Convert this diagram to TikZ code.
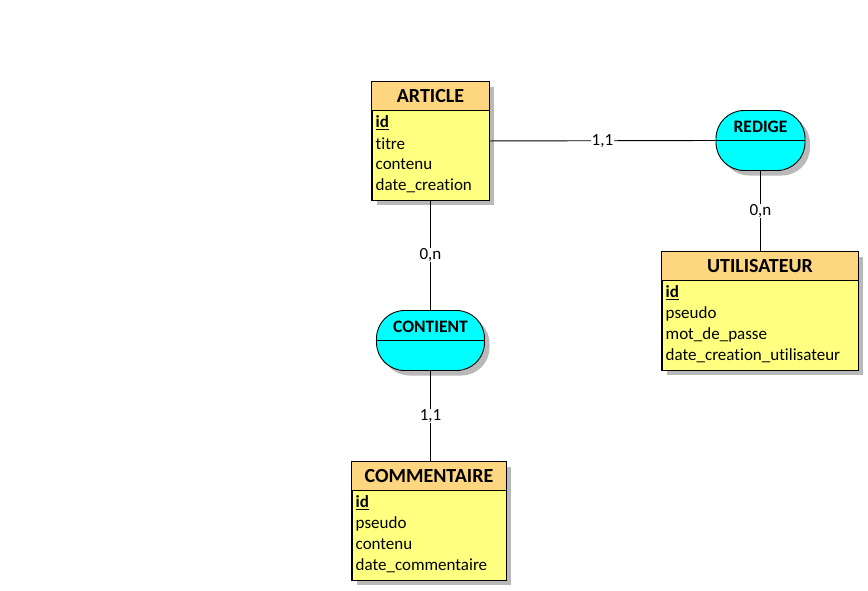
\documentclass[tikz,border=0pt]{standalone}
\usepackage{fontspec}
\setmainfont[Ligatures=NoCommon]{Carlito}
\usetikzlibrary{shadows}
\definecolor{hdrorange}{RGB}{255,214,128}
\definecolor{bodyyellow}{RGB}{255,255,128}
\definecolor{relcyan}{RGB}{0,255,255}
\definecolor{shadowgray}{RGB}{185,185,185}
\tikzset{
  entbox/.style={draw=black, line width=0.9pt, fill=bodyyellow, anchor=north west,
    inner sep=0pt, drop shadow={shadow xshift=5pt, shadow yshift=-5pt, fill=shadowgray, opacity=1}},
  hdrfill/.style={fill=hdrorange},
  enttitle/.style={font=\fontsize{20}{24}\selectfont\bfseries, inner sep=0pt},
  attr/.style={font=\fontsize{17}{21}\selectfont, anchor=west, inner sep=0pt},
  relbox/.style={draw=black, line width=0.9pt, fill=relcyan, rounded corners=28pt,
    minimum width=89pt, minimum height=60pt, inner sep=0pt,
    drop shadow={shadow xshift=5pt, shadow yshift=-5pt, fill=shadowgray, opacity=1}},
  reltitle/.style={font=\fontsize{17.5}{21}\selectfont\bfseries, inner sep=0pt},
  link/.style={draw=black, line width=0.9pt},
  card/.style={font=\fontsize{17}{21}\selectfont, fill=white, inner sep=0.6pt},
}
\begin{document}
\begin{tikzpicture}[x=1pt, y=-1pt]
\useasboundingbox[fill=white] (0,0) rectangle (868,590);

% half-unit shift keeps the thin rules on pixel centres
\begin{scope}[shift={(0.5,0.5)}]
% ---------- entities ----------
% ARTICLE
\node[entbox, minimum width=117pt, minimum height=118pt] (article) at (371,81) {};
\fill[hdrfill] ([xshift=0.45pt,yshift=-0.45pt]article.north west) rectangle ([xshift=-0.45pt]article.north east |- 0,110);
\draw[link] (article.west |- 0,110) -- (article.east |- 0,110);
\draw[line width=0.9pt] (article.north west) rectangle (article.south east);
\node[enttitle] (articleT) at (article.north |- 0,96) {ARTICLE};
\node[attr] (articleA1) at (375,122) {\bfseries\underline{id}};
\node[attr] (articleA2) at (375,143) {titre};
\node[attr] (articleA3) at (375,164) {contenu};
\node[attr] (articleA4) at (375,185) {date\_creation};

% UTILISATEUR
\node[entbox, minimum width=196pt, minimum height=118pt] (user) at (661,251) {};
\fill[hdrfill] ([xshift=0.45pt,yshift=-0.45pt]user.north west) rectangle ([xshift=-0.45pt]user.north east |- 0,280);
\draw[link] (user.west |- 0,280) -- (user.east |- 0,280);
\draw[line width=0.9pt] (user.north west) rectangle (user.south east);
\node[enttitle] (userT) at (user.north |- 0,266) {UTILISATEUR};
\node[attr] (userA1) at (665,292) {\bfseries\underline{id}};
\node[attr] (userA2) at (665,313) {pseudo};
\node[attr] (userA3) at (665,334) {mot\_de\_passe};
\node[attr] (userA4) at (665,355) {date\_creation\_utilisateur};

% COMMENTAIRE
\node[entbox, minimum width=154pt, minimum height=118pt] (comment) at (351,461) {};
\fill[hdrfill] ([xshift=0.45pt,yshift=-0.45pt]comment.north west) rectangle ([xshift=-0.45pt]comment.north east |- 0,490);
\draw[link] (comment.west |- 0,490) -- (comment.east |- 0,490);
\draw[line width=0.9pt] (comment.north west) rectangle (comment.south east);
\node[enttitle] (commentT) at (comment.north |- 0,476) {COMMENTAIRE};
\node[attr] (commentA1) at (355,502) {\bfseries\underline{id}};
\node[attr] (commentA2) at (355,523) {pseudo};
\node[attr] (commentA3) at (355,544) {contenu};
\node[attr] (commentA4) at (355,565) {date\_commentaire};

% ---------- relations ----------
\node[relbox] (redige) at (760,140) {};
\draw[link] (redige.west) -- (redige.east);
\node[reltitle] (redigeT) at (760,126) {REDIGE};

\node[relbox, minimum width=108pt] (contient) at (430,340) {};
\draw[link] (contient.west) -- (contient.east);
\node[reltitle] (contientT) at (430,326) {CONTIENT};

% ---------- links with cardinalities ----------
\draw[link] (article.east) -- node[card] {1,1} (redige.west);
\draw[link] (redige.south) -- node[card] {0,n} (redige.south |- user.north);
\draw[link] (contient.north |- article.south) -- node[card] {0,n} (contient.north);
\draw[link] (contient.south) -- node[card] {1,1} (contient.south |- comment.north);
\end{scope}
\end{tikzpicture}
\end{document}
